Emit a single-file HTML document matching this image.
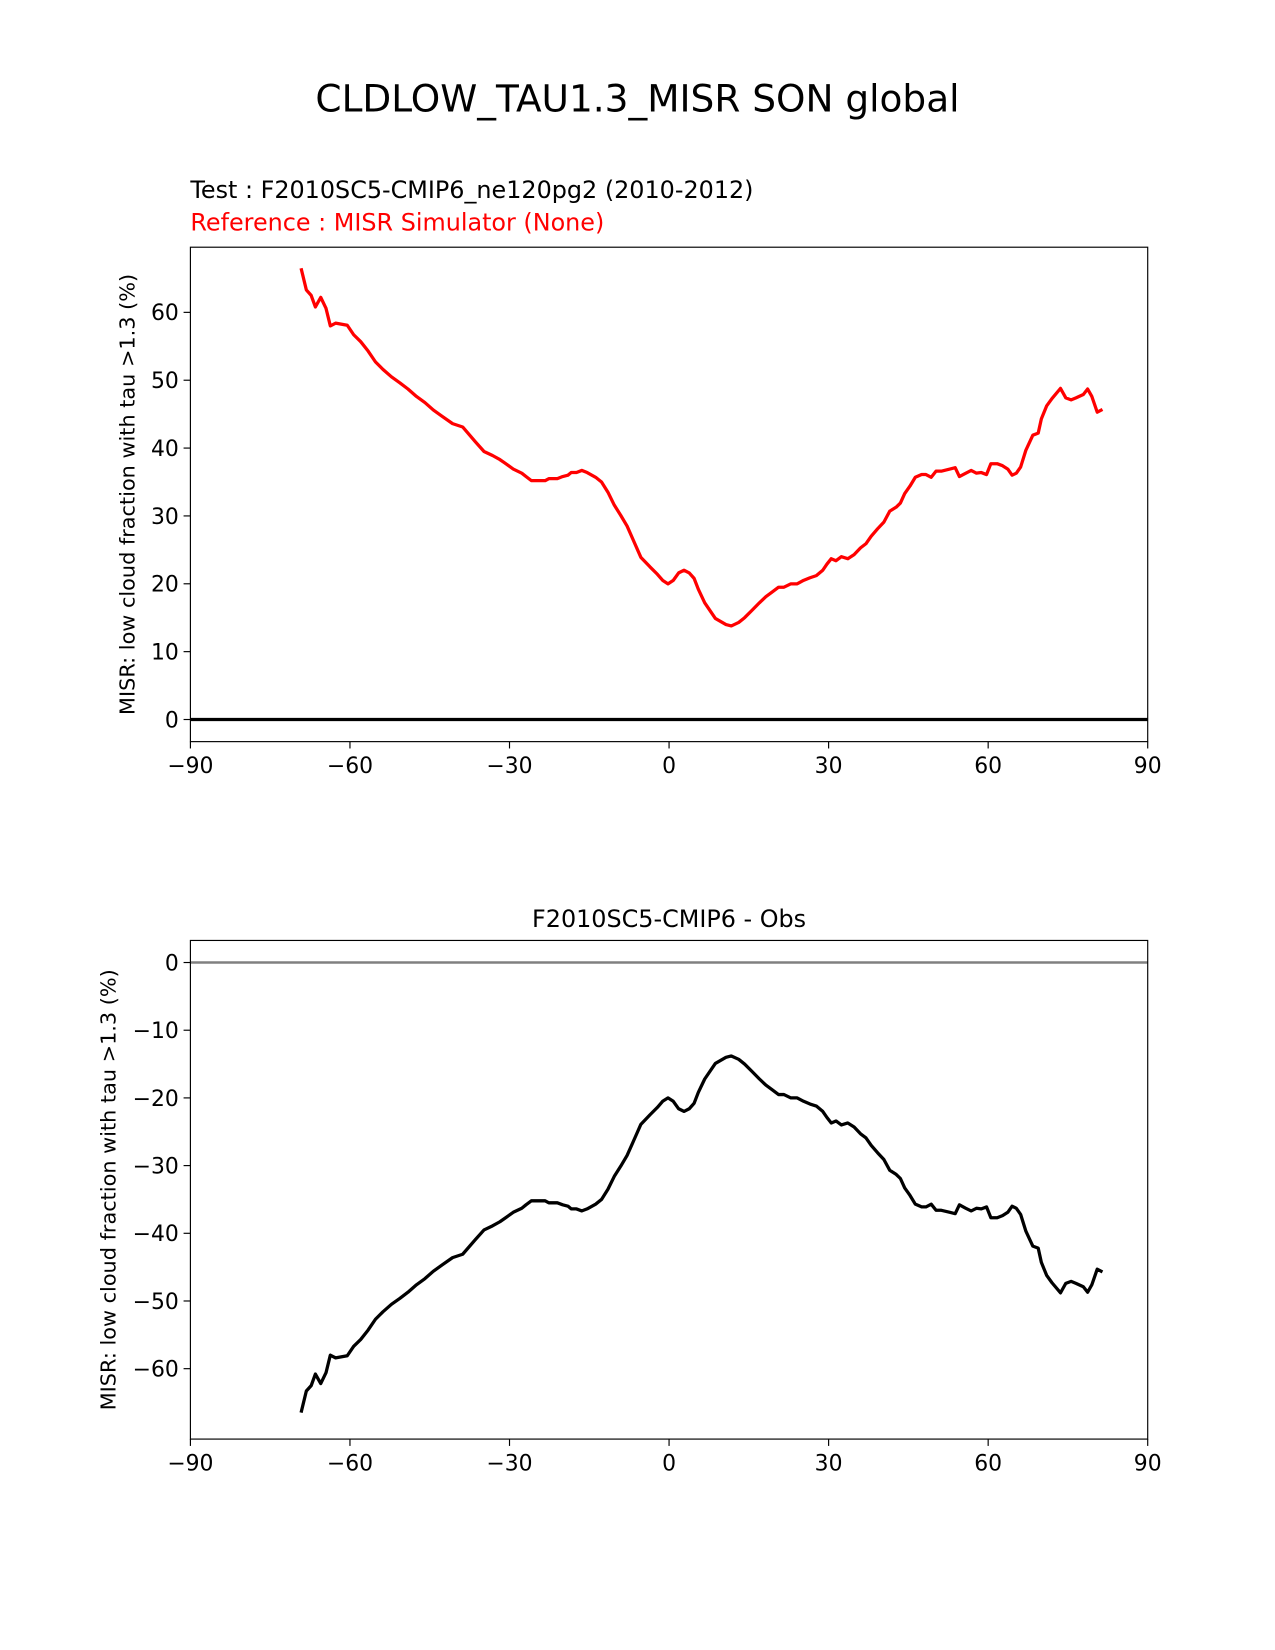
<!DOCTYPE html>
<html><head><meta charset="utf-8">
<style>
html,body{margin:0;padding:0;background:#fff;}
svg{display:block;font-family:"DejaVu Sans","Liberation Sans",sans-serif;}
</style></head>
<body>
<svg id="chart" width="1275" height="1650" viewBox="0 0 1212 1568.5" preserveAspectRatio="none" xmlns="http://www.w3.org/2000/svg">
<rect width="1212" height="1568.5" fill="#fff"/>
<text x="606" y="106" font-size="35.6" text-anchor="middle">CLDLOW_TAU1.3_MISR SON global</text>
<text x="181" y="188" font-size="22.7">Test : F2010SC5-CMIP6_ne120pg2 (2010-2012)</text>
<text x="181" y="219" font-size="22.7" fill="#ff0000">Reference : MISR Simulator (None)</text>
<text x="636" y="881" font-size="22.7" text-anchor="middle">F2010SC5-CMIP6 - Obs</text>
<g id="top"></g>
<g id="bot"></g>
</svg>
<script>
const lats = [-69.2,-68.2,-67.3,-66.5,-65.5,-64.5,-63.7,-62.7,-60.5,-59.3,-58.0,-56.6,-55.2,-53.8,-52.2,-50.6,-49.1,-47.5,-45.9,-44.3,-42.7,-40.7,-38.8,-36.4,-34.8,-33.2,-31.8,-30.9,-29.3,-27.7,-26.9,-25.9,-23.3,-22.6,-21.0,-20.0,-19.0,-18.4,-17.4,-16.4,-15.4,-13.8,-12.7,-11.5,-10.3,-9.1,-7.9,-6.7,-5.3,-3.6,-2.2,-1.2,-0.2,0.8,1.8,2.8,3.8,4.7,5.5,6.7,8.7,10.7,11.7,13.1,14.2,15.6,17.0,18.2,19.4,20.6,21.6,22.9,24.1,25.3,26.5,27.7,28.9,29.7,30.5,31.4,32.4,33.6,34.8,36.0,37.0,38.0,39.2,40.4,41.5,42.7,43.5,44.3,45.3,46.3,47.5,48.3,49.3,50.2,51.2,52.8,53.8,54.6,55.8,56.8,57.8,58.7,59.7,60.5,61.7,62.7,63.7,64.5,65.3,66.1,67.1,68.4,69.4,70.0,71.0,72.0,73.6,74.6,75.6,76.5,77.9,78.7,79.5,80.5,81.5];
const testValues = [66.5,63.3,62.5,60.8,62.2,60.6,58.0,58.4,58.1,56.7,55.7,54.3,52.7,51.6,50.5,49.6,48.7,47.6,46.7,45.6,44.7,43.6,43.1,40.9,39.5,38.9,38.3,37.8,36.9,36.3,35.8,35.2,35.2,35.5,35.5,35.8,36.0,36.4,36.4,36.7,36.4,35.7,35.0,33.5,31.6,30.1,28.5,26.4,23.9,22.5,21.4,20.5,20.0,20.5,21.6,22.0,21.6,20.8,19.2,17.2,14.9,14.0,13.8,14.3,15.0,16.1,17.2,18.1,18.8,19.5,19.5,20.0,20.0,20.5,20.9,21.2,22.0,22.9,23.7,23.4,24.0,23.7,24.3,25.3,25.9,27.0,28.1,29.1,30.7,31.3,31.9,33.3,34.4,35.7,36.1,36.1,35.7,36.6,36.6,36.9,37.1,35.8,36.3,36.7,36.3,36.4,36.1,37.7,37.7,37.4,36.9,36.0,36.3,37.2,39.7,41.9,42.2,44.3,46.2,47.3,48.8,47.4,47.1,47.4,47.9,48.7,47.6,45.3,45.7];
const diffValues = [-66.5,-63.3,-62.5,-60.8,-62.2,-60.6,-58.0,-58.4,-58.1,-56.7,-55.7,-54.3,-52.7,-51.6,-50.5,-49.6,-48.7,-47.6,-46.7,-45.6,-44.7,-43.6,-43.1,-40.9,-39.5,-38.9,-38.3,-37.8,-36.9,-36.3,-35.8,-35.2,-35.2,-35.5,-35.5,-35.8,-36.0,-36.4,-36.4,-36.7,-36.4,-35.7,-35.0,-33.5,-31.6,-30.1,-28.5,-26.4,-23.9,-22.5,-21.4,-20.5,-20.0,-20.5,-21.6,-22.0,-21.6,-20.8,-19.2,-17.2,-14.9,-14.0,-13.8,-14.3,-15.0,-16.1,-17.2,-18.1,-18.8,-19.5,-19.5,-20.0,-20.0,-20.5,-20.9,-21.2,-22.0,-22.9,-23.7,-23.4,-24.0,-23.7,-24.3,-25.3,-25.9,-27.0,-28.1,-29.1,-30.7,-31.3,-31.9,-33.3,-34.4,-35.7,-36.1,-36.1,-35.7,-36.6,-36.6,-36.9,-37.1,-35.8,-36.3,-36.7,-36.3,-36.4,-36.1,-37.7,-37.7,-37.4,-36.9,-36.0,-36.3,-37.2,-39.7,-41.9,-42.2,-44.3,-46.2,-47.3,-48.8,-47.4,-47.1,-47.4,-47.9,-48.7,-47.6,-45.3,-45.7];
const xTicks = [-90,-60,-30,0,30,60,90];
const topYTicks = [0,10,20,30,40,50,60];
const botYTicks = [0,-10,-20,-30,-40,-50,-60];
const yLabel = "MISR: low cloud fraction with tau >1.3 (%)";

const NS="http://www.w3.org/2000/svg";
function mk(parent,tag,attrs,text){const e=document.createElementNS(NS,tag);for(const k in attrs)e.setAttribute(k,attrs[k]);if(text!==undefined)e.textContent=text;parent.appendChild(e);return e;}
function fmt(v){return v<0?"\u2212"+Math.abs(v):String(v);}

function panel(g,box,ylim,yTicks,values,color,zeroColor,zeroW,lblX){
  const x=v=>box.l+(v+90)/180*(box.r-box.l);
  const y=v=>box.b-(v-ylim[0])/(ylim[1]-ylim[0])*(box.b-box.t);
  const z=mk(g,'line',{x1:box.l,x2:box.r,y1:y(0),y2:y(0),stroke:zeroColor,'stroke-width':zeroW});
  
  
  let d='';
  for(let i=0;i<lats.length;i++){d+=(i?'L':'M')+x(lats[i]).toFixed(1)+','+y(values[i]).toFixed(1);}
  const p=mk(g,'path',{d:d,fill:'none',stroke:color,'stroke-width':3.1,'stroke-linejoin':'round'});
  
  
  const fr=mk(g,'rect',{x:box.l,y:box.t,width:box.r-box.l,height:box.b-box.t,fill:'none',stroke:'#000','stroke-width':1.1});
  
  
  xTicks.forEach(t=>{
    mk(g,'line',{x1:x(t),x2:x(t),y1:box.b,y2:box.b+6.5,stroke:'#000','stroke-width':1.1});
    const tx=mk(g,'text',{x:x(t),y:box.b+30,'font-size':20.8,'text-anchor':'middle'},fmt(t));
    
    
  });
  yTicks.forEach(t=>{
    mk(g,'line',{x1:box.l-6.5,x2:box.l,y1:y(t),y2:y(t),stroke:'#000','stroke-width':1.1});
    const tx=mk(g,'text',{x:box.l-11,y:y(t)+7.5,'font-size':20.8,'text-anchor':'end'},fmt(t));
    
    
  });
  const cy=(box.t+box.b)/2;
  const yl=mk(g,'text',{x:lblX,y:cy,'font-size':19.8,'text-anchor':'middle',transform:'rotate(-90 '+lblX+' '+cy+')'},yLabel);
  
  
}
panel(document.getElementById('top'),{l:181,r:1091,t:235,b:705},[-3.26,69.6],topYTicks,testValues,'#ff0000','#000',3.1,128);
panel(document.getElementById('bot'),{l:181,r:1091,t:894,b:1368},[-70.4,3.26],botYTicks,diffValues,'#000','#808080',2.4,110);
</script>
</body></html>
